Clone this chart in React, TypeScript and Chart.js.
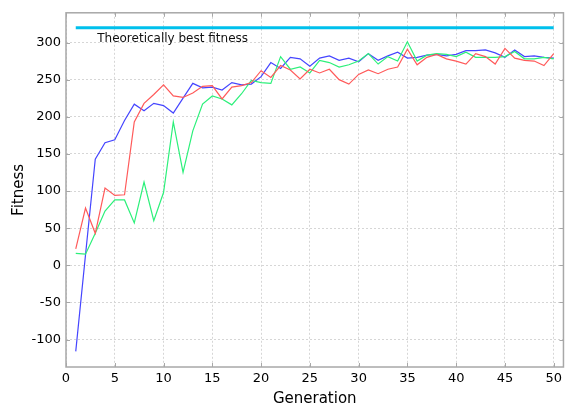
import React, { useEffect, useRef } from "react";
import { Chart, registerables } from "chart.js";

Chart.register(...registerables);

const generations = [
  1, 2, 3, 4, 5, 6, 7, 8, 9, 10, 11, 12, 13, 14, 15, 16, 17, 18, 19, 20, 21, 22, 23, 24, 25,
  26, 27, 28, 29, 30, 31, 32, 33, 34, 35, 36, 37, 38, 39, 40, 41, 42, 43, 44, 45, 46, 47, 48, 49, 50,
];

const blueRun = [
  -116, 14, 143, 165, 169, 195, 217, 208, 218, 215, 205, 225, 245, 239, 240, 236, 246, 243, 244, 254,
  273, 265, 280, 278, 268, 279, 282, 276, 279, 274, 285, 276, 282, 287, 279, 280, 283, 284, 282, 284,
  289, 289, 290, 286, 280, 290, 281, 282, 280, 279,
];

const redRun = [
  22, 77, 43, 104, 94, 95, 193, 218, 230, 243, 228, 226, 232, 241, 242, 224, 240, 242, 246, 262,
  253, 269, 263, 251, 264, 259, 264, 250, 244, 257, 263, 258, 264, 267, 291, 270, 280, 284, 278, 275,
  271, 285, 281, 271, 292, 279, 276, 275, 269, 285,
];

const greenRun = [
  16, 15, 43, 73, 88, 88, 57, 112, 60, 98, 193, 125, 181, 217, 228, 224, 216, 231, 249, 246,
  245, 281, 264, 267, 259, 276, 273, 267, 270, 275, 285, 271, 281, 275, 301, 275, 283, 285, 284, 281,
  287, 280, 280, 280, 281, 288, 278, 278, 280, 278,
];

const bestFitness = 320;
const bestLineGenerations = [1, 50];
const bestLabel = "Theoretically best fitness";
const bestLabelPos = [3.2, 305];

const xTicks = [0, 5, 10, 15, 20, 25, 30, 35, 40, 45, 50];
const yTicks = [-100, -50, 0, 50, 100, 150, 200, 250, 300];

const FONT = "'DejaVu Sans', sans-serif";
const FRAME = "#a8a8a8";

const framePlugin = {
  id: "frameAndLabel",
  afterDatasetsDraw(chart: any) {
    const { ctx, scales } = chart;
    ctx.save();
    ctx.fillStyle = "#111";
    ctx.font = `12px ${FONT}`;
    ctx.textAlign = "left";
    ctx.textBaseline = "middle";
    ctx.fillText(
      bestLabel,
      scales.x.getPixelForValue(bestLabelPos[0]),
      scales.y.getPixelForValue(bestLabelPos[1])
    );
    ctx.restore();
  },
  afterDraw(chart: any) {
    const { ctx, chartArea, scales } = chart;
    const { left, right, top, bottom } = chartArea;
    ctx.save();
    ctx.strokeStyle = FRAME;
    ctx.lineWidth = 1.5;
    ctx.strokeRect(left, top, right - left, bottom - top);
    ctx.lineWidth = 1;
    const tl = 4;
    ctx.beginPath();
    xTicks.forEach((v) => {
      const px = Math.round(scales.x.getPixelForValue(v)) + 0.5;
      ctx.moveTo(px, bottom);
      ctx.lineTo(px, bottom - tl);
      ctx.moveTo(px, top);
      ctx.lineTo(px, top + tl);
    });
    yTicks.forEach((v) => {
      const py = Math.round(scales.y.getPixelForValue(v)) + 0.5;
      ctx.moveTo(left, py);
      ctx.lineTo(left + tl, py);
      ctx.moveTo(right, py);
      ctx.lineTo(right - tl, py);
    });
    ctx.stroke();
    ctx.restore();
  },
};

function toPoints(values: number[]) {
  return values.map((y, i) => ({ x: generations[i], y }));
}

export default function App() {
  const canvasRef = useRef<HTMLCanvasElement | null>(null);

  useEffect(() => {
    if (!canvasRef.current) return;
    const chart = new Chart(canvasRef.current, {
      type: "line",
      data: {
        datasets: [
          {
            label: "best",
            data: bestLineGenerations.map((x) => ({ x, y: bestFitness })),
            borderColor: "#00c0ec",
            borderWidth: 3,
            pointRadius: 0,
          },
          {
            label: "red",
            data: toPoints(redRun),
            borderColor: "#ff5a5a",
            borderWidth: 1.2,
            pointRadius: 0,
          },
          {
            label: "green",
            data: toPoints(greenRun),
            borderColor: "#2cf07a",
            borderWidth: 1.2,
            pointRadius: 0,
          },
          {
            label: "blue",
            data: toPoints(blueRun),
            borderColor: "#4545ff",
            borderWidth: 1.2,
            pointRadius: 0,
          },
        ],
      },
      options: {
        animation: false,
        responsive: false,
        events: [],
        layout: { padding: { top: 12, right: 1, left: 0, bottom: 0 } },
        plugins: {
          legend: { display: false },
          tooltip: { enabled: false },
        },
        scales: {
          x: {
            type: "linear",
            min: 0,
            max: 51,
            afterBuildTicks: (s: any) => {
              s.ticks = xTicks.map((value) => ({ value }));
            },
            afterFit: (s: any) => {
              s.height = 40;
            },
            grid: { color: "#d6d6d6", drawTicks: false, lineWidth: 1 },
            border: { display: false, dash: [2, 2] },
            ticks: {
              font: { family: FONT, size: 13 },
              color: "#000",
              padding: 4,
              maxRotation: 0,
              autoSkip: false,
            },
            title: {
              display: true,
              text: "Generation",
              font: { family: FONT, size: 15, lineHeight: 1 },
              color: "#000",
              padding: { top: 0, bottom: 0.5 },
            },
          },
          y: {
            type: "linear",
            min: -137,
            max: 340,
            afterBuildTicks: (s: any) => {
              s.ticks = yTicks.map((value) => ({ value }));
            },
            afterFit: (s: any) => {
              s.width = 66;
            },
            grid: { color: "#d6d6d6", drawTicks: false, lineWidth: 1 },
            border: { display: false, dash: [2, 2] },
            ticks: {
              font: { family: FONT, size: 13 },
              color: "#000",
              padding: 5,
              autoSkip: false,
            },
            title: {
              display: true,
              text: "Fitness",
              font: { family: FONT, size: 15, lineHeight: 1 },
              color: "#000",
              padding: { top: 12, bottom: 0 },
            },
          },
        },
      },
      plugins: [framePlugin],
    });
    return () => chart.destroy();
  }, []);

  return (
    <div style={{ position: "fixed", left: 0, top: 0, width: 566, height: 407, background: "#fff" }}>
      <canvas ref={canvasRef} width={566} height={407} />
    </div>
  );
}
